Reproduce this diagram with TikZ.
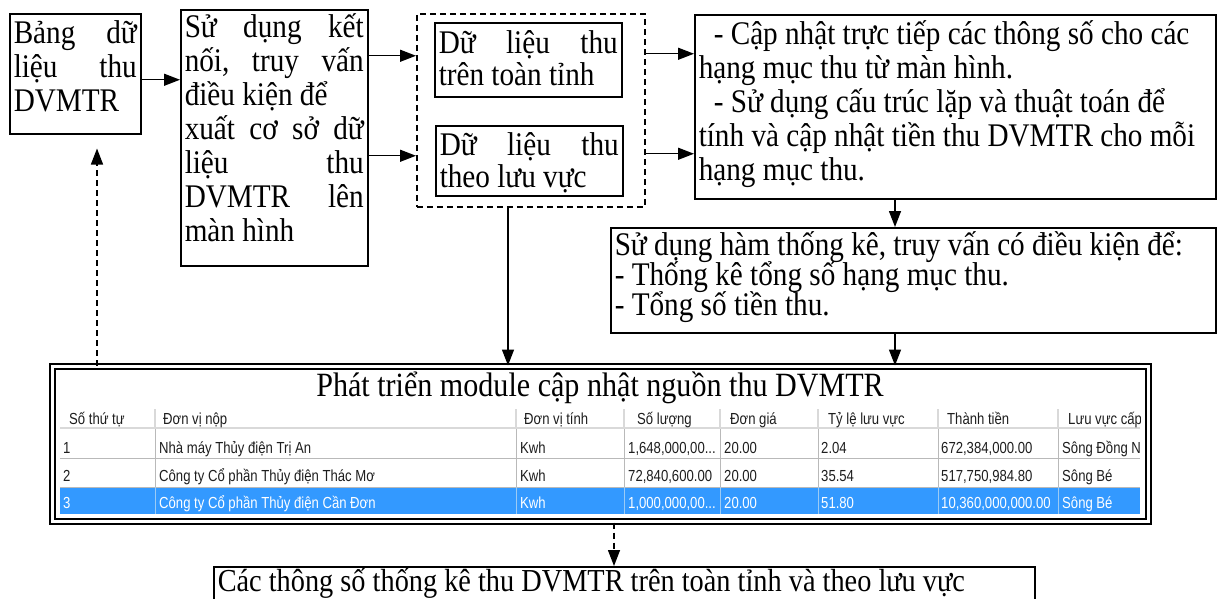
\documentclass[tikz,border=0pt]{standalone}
\usepackage{fontspec}
\setmainfont[FakeStretch=0.885]{Liberation Serif}
\newfontfamily\gridfamily[FakeStretch=0.82]{Liberation Sans}
\usetikzlibrary{arrows.meta}

\definecolor{selblue}{HTML}{3399FF}
\definecolor{rowrule}{HTML}{B9B9B9}
\definecolor{headrule}{HTML}{D9D9D9}
\definecolor{selrule}{HTML}{9CCBF5}
\definecolor{headtext}{HTML}{1E1E1E}

\newcommand{\bodysize}{\fontsize{33}{34}\selectfont}
\newcommand{\gridsize}{\gridfamily\fontsize{16}{18}\selectfont}
% width, height, distance from the top to the first baseline, text
\newcommand{\topbox}[4]{\parbox[t][#2][t]{#1}{\lineskiplimit=-50pt\leavevmode\par\vskip\dimexpr#3-\baselineskip\relax#4}}

\begin{document}
\begin{tikzpicture}[x=1pt, y=-1pt,
  box/.style={draw, line width=1.5pt, inner xsep=4pt, inner ysep=0pt, anchor=north west, font=\bodysize},
  arr/.style={line width=1.4pt, -{Triangle[length=16pt,width=12pt]}},
  dsh/.style={dash pattern=on 6pt off 4pt},
  cell/.style={anchor=base west, inner sep=0pt, font=\gridsize, text=headtext},
  selcell/.style={cell, text=white}]

\useasboundingbox (0,0) rectangle (1218,598);
\fill[white] (0,0) rectangle (1218,598);
\clip (0,0) rectangle (1218,598);

% --- process boxes ---
\node[box] (A) at (9,13) {\topbox{123pt}{120pt}{30pt}{Bảng\hfill dữ\\liệu\hfill thu\\DVMTR}};
\node[box] (B) at (180,9) {\topbox{179pt}{256pt}{28pt}{Sử\hfill dụng\hfill kết\\nối,\hfill truy\hfill vấn\\điều kiện để\\xuất\hfill cơ\hfill sở\hfill dữ\\liệu\hfill thu\\DVMTR\hfill lên\\màn hình}};
\node[draw, dsh, line width=1.5pt, inner sep=0pt, anchor=north west, minimum width=228pt, minimum height=193pt] (G) at (416,13) {};
\node[box, font=\fontsize{33}{32}\selectfont] (C1) at (434,22) {\topbox{179pt}{74pt}{31pt}{Dữ\hfill liệu\hfill thu\\trên toàn tỉnh}};
\node[box, font=\fontsize{33}{32}\selectfont] (C2) at (435,125) {\topbox{179pt}{70pt}{30pt}{Dữ\hfill liệu\hfill thu\\theo lưu vực}};
\node[box] (D) at (694,14) {\topbox{513pt}{184pt}{30pt}{\hspace*{15pt}- Cập nhật trực tiếp các thông số cho các\\hạng mục thu từ màn hình.\\\hspace*{15pt}- Sử dụng cấu trúc lặp và thuật toán để\\tính và cập nhật tiền thu DVMTR cho mỗi\\hạng mục thu.}};
\node[box, font=\fontsize{33}{30}\selectfont] (E) at (610,227) {\topbox{597pt}{105pt}{28pt}{Sử dụng hàm thống kê, truy vấn có điều kiện để:\\- Thống kê tổng số hạng mục thu.\\- Tổng số tiền thu.}};
\node[box, font=\fontsize{32}{34}\selectfont] (F) at (213,566) {\topbox{813pt}{50pt}{25pt}{Các thông số thống kê thu DVMTR trên toàn tỉnh và theo lưu vực}};

% --- data grid with its double frame ---
\node[draw, line width=2.2pt, double=white, double distance=2.5pt, inner sep=0pt, anchor=north west, minimum width=1096pt, minimum height=155pt] (T) at (51.5,365.5) {};
\node[font=\fontsize{34}{34}\selectfont, anchor=base, inner sep=0pt] (ttl) at (600,396) {Phát triển module cập nhật nguồn thu DVMTR};

\fill[selblue] (60,487) rectangle (1140,514);
\draw[headrule, line width=2pt] (60,428) -- (1140,428);
\draw[rowrule, line width=1pt] (60,458) -- (1140,458) (60,487) -- (1140,487);
\foreach \c in {155,516,624,720,818,938,1058} {
  \draw[headrule, line width=1.2pt] (\c,409) -- (\c,427);
  \draw[rowrule, line width=1pt] (\c,429) -- (\c,487);
  \draw[selrule, line width=1pt] (\c,487) -- (\c,514);
}

\begin{scope}
\clip (60,372) rectangle (1140,514);
% header
\node[cell] (h1) at (69,424) {Số thứ tự};
\node[cell] (h2) at (163,424) {Đơn vị nộp};
\node[cell] (h3) at (524,424) {Đơn vị tính};
\node[cell] (h4) at (637,424) {Số lượng};
\node[cell] (h5) at (730,424) {Đơn giá};
\node[cell] (h6) at (828,424) {Tỷ lệ lưu vực};
\node[cell] (h7) at (947,424) {Thành tiền};
\node[cell] (h8) at (1068,424) {Lưu vực cấp};
% row 1
\node[cell] (r1a) at (63,453) {1};
\node[cell] (r1b) at (159,453) {Nhà máy Thủy điện Trị An};
\node[cell] (r1c) at (520,453) {Kwh};
\node[cell] (r1d) at (628,453) {1,648,000,00...};
\node[cell] (r1e) at (724,453) {20.00};
\node[cell] (r1f) at (821,453) {2.04};
\node[cell] (r1g) at (941,453) {672,384,000.00};
\node[cell] (r1h) at (1062,453) {Sông Đồng N};
% row 2
\node[cell] (r2a) at (63,481) {2};
\node[cell] (r2b) at (159,481) {Công ty Cổ phần Thủy điện Thác Mơ};
\node[cell] (r2c) at (520,481) {Kwh};
\node[cell] (r2d) at (628,481) {72,840,600.00};
\node[cell] (r2e) at (724,481) {20.00};
\node[cell] (r2f) at (821,481) {35.54};
\node[cell] (r2g) at (941,481) {517,750,984.80};
\node[cell] (r2h) at (1062,481) {Sông Bé};
% row 3 (selected)
\node[selcell] (r3a) at (63,508.5) {3};
\node[selcell] (r3b) at (159,508.5) {Công ty Cổ phần Thủy điện Cần Đơn};
\node[selcell] (r3c) at (520,508.5) {Kwh};
\node[selcell] (r3d) at (628,508.5) {1,000,000,00...};
\node[selcell] (r3e) at (724,508.5) {20.00};
\node[selcell] (r3f) at (821,508.5) {51.80};
\node[selcell] (r3g) at (941,508.5) {10,360,000,000.00};
\node[selcell] (r3h) at (1062,508.5) {Sông Bé};
\end{scope}

% --- connectors ---
\coordinate (a1) at ([yshift=-6pt]A.east);
\draw[arr] (a1) -- (a1 -| B.west);
\coordinate (b1) at ([yshift=82pt]B.east);
\coordinate (b2) at ([yshift=-18pt]B.east);
\draw[arr] (b1) -- (b1 -| G.west);
\draw[arr] (b2) -- (b2 -| G.west);
\coordinate (g1) at ([yshift=56.5pt]G.east);
\coordinate (g2) at ([yshift=-43.5pt]G.east);
\draw[arr] (g1) -- (g1 -| D.west);
\draw[arr] (g2) -- (g2 -| D.west);
\coordinate (dx) at (895,0);
\draw[arr] (dx |- D.south) -- (dx |- E.north);
\draw[arr] (dx |- E.south) -- (dx |- T.north);
\coordinate (gx) at (508,0);
\draw[arr] (gx |- G.south) -- (gx |- T.north);
\coordinate (ax) at (97,0);
\draw[arr, dsh, shorten >=14pt] (ax |- T.north) -- (ax |- A.south);
\coordinate (fx) at (614,0);
\draw[arr, dsh] (fx |- T.south) -- (fx |- F.north);
\end{tikzpicture}
\end{document}
